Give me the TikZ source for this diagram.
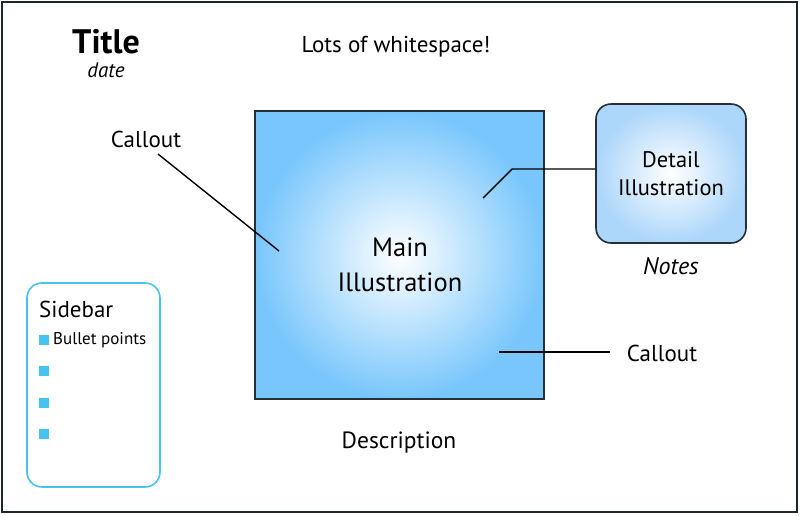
\documentclass[tikz,border=0pt]{standalone}
\usepackage{fontspec}
\setmainfont{PT Sans}
\usetikzlibrary{positioning}
\definecolor{skyblue}{RGB}{120,198,252}
\definecolor{paleblue}{RGB}{172,214,250}
\definecolor{edgegrey}{RGB}{38,48,58}
\definecolor{sidecyan}{RGB}{70,196,240}

\begin{document}
\begin{tikzpicture}[
    x=1pt, y=-1pt,
    label/.style={font=\fontsize{23}{26}\selectfont, align=center, inner sep=0pt},
    mainbox/.style={rectangle, draw=edgegrey, line width=1.6pt, inner color=white, outer color=skyblue, minimum width=289pt, minimum height=288pt},
    detailbox/.style={rectangle, rounded corners=15pt, draw=edgegrey, line width=1.6pt, inner color=white, outer color=paleblue, minimum width=150pt, minimum height=139pt, align=center, font=\fontsize{22.5}{28}\selectfont},
    sidebox/.style={rectangle, rounded corners=15pt, draw=sidecyan, line width=1.6pt, minimum width=133pt, minimum height=204pt},
    bullet/.style={rectangle, fill=sidecyan, minimum size=10pt, inner sep=0pt},
    callline/.style={line width=1.4pt, black}
]
    \useasboundingbox (0,0) rectangle (800,515);
    \draw[line width=1.6pt, edgegrey!80!black] (2,2) rectangle (797,512);

    % heading
    \node[font=\fontsize{34}{38}\selectfont\bfseries, inner sep=0pt] (title) at (106,42) {Title};
    \node[font=\fontsize{21}{24}\selectfont\itshape, inner sep=0pt] (date) at (106,70) {date};
    \node[label] (white) at (396,47) {Lots of whitespace!};

    % illustrations
    \node[mainbox] (main) at (399.5,255) {};
    \node[label, font=\fontsize{26.5}{35}\selectfont] (mainlabel) at (400,265) {Main\\Illustration};
    \node[detailbox] (detail) at (671,173.5) {Detail\\Illustration};
    \node[label, font=\fontsize{24}{26}\selectfont\itshape] (notes) at (671,266) {Notes};
    \node[label, font=\fontsize{23.5}{26}\selectfont] (desc) at (399,443) {Description};

    % callouts
    \node[label] (calltop) at (146,139) {Callout};
    \node[label] (callbot) at (662,353) {Callout};
    \coordinate (ptleft) at (279,251);
    \coordinate (ptright) at (483,198);
    \coordinate (ptbend) at (512,169);
    \coordinate (ptlow) at (499,352);
    \draw[callline] (158,154) -- (ptleft);
    \draw[callline] (ptright) -- (ptbend) -- (detail.west |- ptbend);
    \draw[callline] (ptlow) -- (610,352);

    % sidebar
    \node[sidebox] (side) at (93.5,385) {};
    \node[label, anchor=west] (sidetitle) at (39,309) {Sidebar};
    \foreach \y [count=\i] in {340,371,403,434}
        \node[bullet] (b\i) at (44,\y) {};
    \node[label, font=\fontsize{17}{20}\selectfont, anchor=west] (btext) at (53,340) {Bullet points};
\end{tikzpicture}
\end{document}
